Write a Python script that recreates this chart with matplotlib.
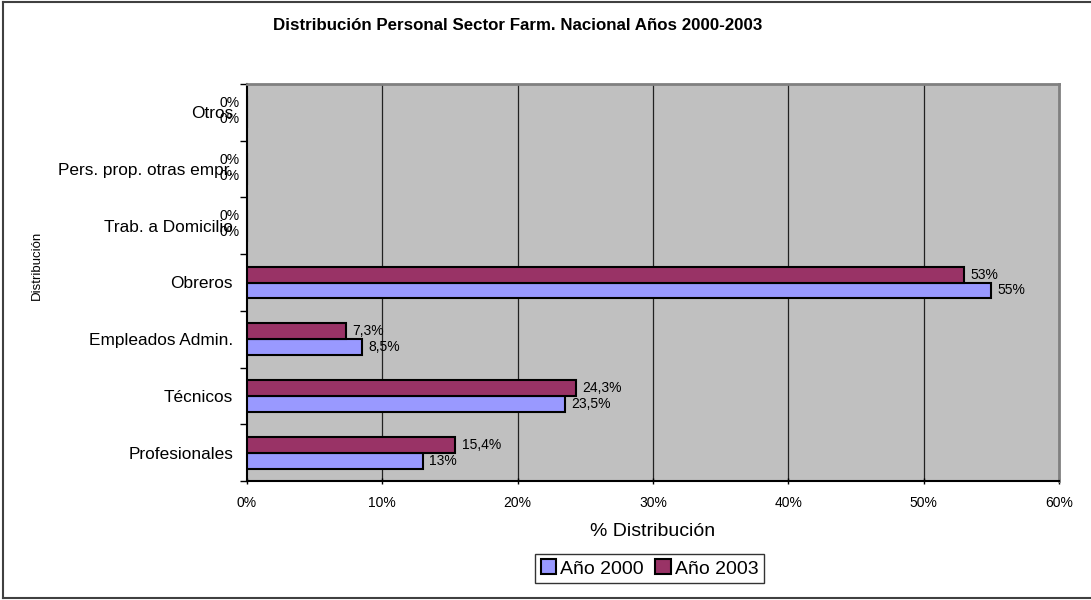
import matplotlib
matplotlib.use("Agg")
import matplotlib.pyplot as plt
from matplotlib.lines import Line2D
from matplotlib.patches import Patch

plt.rcParams['font.family'] = ['Liberation Sans', 'DejaVu Sans']

# Datos: porcentaje de personal por categoría
categorias = ["Profesionales", "Técnicos", "Empleados Admin.", "Obreros",
              "Trab. a Domicilio", "Pers. prop. otras empr.", "Otros"]
anio_2000 = [13, 23.5, 8.5, 55, 0, 0, 0]
anio_2003 = [15.4, 24.3, 7.3, 53, 0, 0, 0]
series = ["Año 2000", "Año 2003"]
xticks = [0, 10, 20, 30, 40, 50, 60]

col_2000 = "#9999FF"
col_2003 = "#993366"


def etiqueta(v):
    if v == int(v):
        return f"{int(v)}%"
    return f"{v:.1f}%".replace(".", ",")


W, H = 1091, 600
fig = plt.figure(figsize=(W / 100, H / 100), dpi=100)
ax = fig.add_axes([247 / W, 1 - 481 / H, (1059 - 247) / W, (481 - 84) / H])
ax.set_facecolor("#C0C0C0")

h = 0.28
y = list(range(len(categorias)))
b00 = ax.barh([i - h / 2 for i in y], anio_2000, height=h, color=col_2000,
              edgecolor="black", linewidth=1.5, zorder=3)
b03 = ax.barh([i + h / 2 for i in y], anio_2003, height=h, color=col_2003,
              edgecolor="black", linewidth=1.5, zorder=3)

# etiquetas de valor al final de cada barra
for bars, vals in ((b00, anio_2000), (b03, anio_2003)):
    for rect, v in zip(bars, vals):
        yc = rect.get_y() + rect.get_height() / 2
        if v == 0:
            ax.annotate(etiqueta(v), (0, yc), xytext=(-5, 1), textcoords="offset points",
                        ha="right", va="center", fontsize=10, annotation_clip=False, zorder=5)
        else:
            ax.annotate(etiqueta(v), (v, yc), xytext=(4.5, 0), textcoords="offset points",
                        ha="left", va="center", fontsize=10, zorder=5)

ax.set_xlim(0, 60)
ax.set_ylim(-0.5, len(categorias) - 0.5)
ax.set_xticks(xticks)
ax.set_xticklabels([f"{t}%" for t in xticks], fontsize=10)
ax.tick_params(axis="x", direction="inout", length=5, width=1, pad=8)

ax.set_yticks([i - 0.5 for i in range(len(categorias) + 1)])
ax.set_yticklabels([])
ax.set_yticks(y, minor=True)
ax.set_yticklabels(categorias, minor=True, fontsize=12.4)
ax.tick_params(axis="y", which="major", direction="out", length=5, width=1)
ax.tick_params(axis="y", which="minor", length=0, pad=10)

for t in xticks[1:-1]:
    ax.axvline(t, color="#222222", linewidth=0.9, zorder=1)

ax.spines["left"].set_linewidth(1.5)
ax.spines["bottom"].set_linewidth(1.5)
for s in ("top", "right"):
    ax.spines[s].set_color("#808080")
    ax.spines[s].set_linewidth(2)

ax.set_xlabel("% Distribución", fontsize=14)
ax.xaxis.label.set_va("center")
ax.xaxis.set_label_coords(0.5, (481 - 531) / 397)

fig.text(518 / W, 1 - 25 / H, "Distribución Personal Sector Farm. Nacional Años 2000-2003",
         ha="center", va="center", fontsize=12.2, fontweight="bold")
fig.text(37 / W, 1 - 265 / H, "Distribución", rotation=90, ha="center", va="center", fontsize=9.5)

handles = [Patch(facecolor=col_2000, edgecolor="black", linewidth=1.5),
           Patch(facecolor=col_2003, edgecolor="black", linewidth=1.5)]
leg = fig.legend(handles, series, loc="center", bbox_to_anchor=(649.5 / W, 1 - 568.5 / H),
                 ncol=2, fontsize=14, frameon=True, fancybox=False, handlelength=0.8,
                 handleheight=0.8, handletextpad=0.2, columnspacing=0.6,
                 borderpad=0.3, borderaxespad=0)
leg.get_frame().set_edgecolor("black")
leg.get_frame().set_linewidth(1)

# marco exterior del gráfico
for xs, ys in (([3, 3], [2, 598]), ([3, W + 5], [2, 2]), ([3, W + 5], [598, 598])):
    fig.add_artist(Line2D([x / W for x in xs], [1 - v / H for v in ys],
                          color="#404040", linewidth=1.5))

fig.savefig("out.png", dpi=100)
